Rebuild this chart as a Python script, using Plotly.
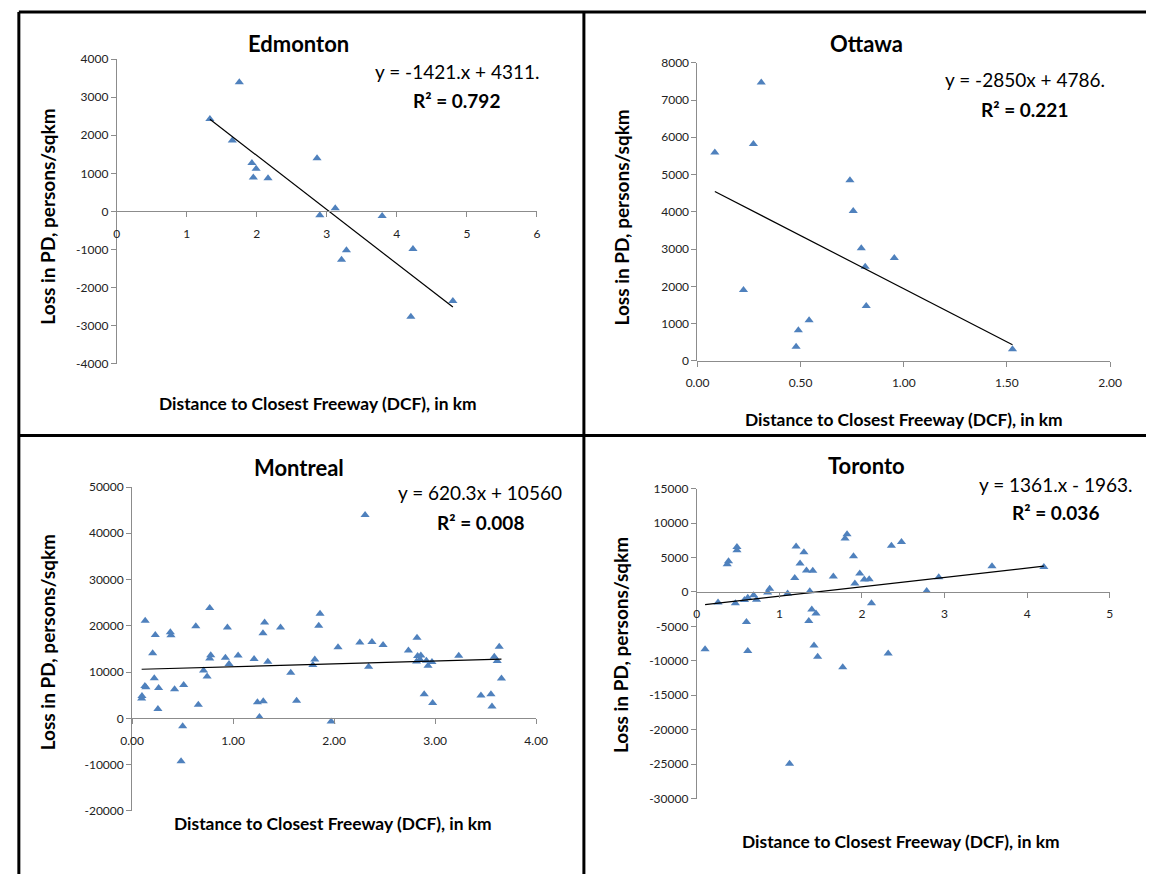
import plotly.graph_objects as go

W, H = 1158, 881
FONT = "Lato"
BLUE = "#4F81BD"

# ---- data: distance to closest freeway (km) vs loss in population density
edm_x = [1.33, 1.75, 1.65, 1.93, 1.99, 1.95, 2.16, 2.86, 2.90, 3.12, 3.28, 3.21, 3.79, 4.23, 4.20, 4.80]
edm_y = [2430, 3390, 1860, 1270, 1120, 894, 870, 1395, -96, 85, -1018, -1266, -121, -982, -2765, -2351]
edm_fit = (-1421, 4311)

ott_x = [0.084, 0.309, 0.271, 0.223, 0.739, 0.755, 0.794, 0.813, 0.954, 0.818, 0.541, 0.489, 0.478, 1.527]
ott_y = [5590, 7470, 5820, 1900, 4850, 4020, 3025, 2525, 2760, 1470, 1090, 820, 380, 310]
ott_fit = (-2850, 4786)

mtl_x = [0.097, 0.094, 0.129, 0.126, 0.136, 0.203, 0.229, 0.219, 0.262, 0.255, 0.378, 0.384,
         0.420, 0.510, 0.500, 0.484, 0.630, 0.655, 0.707, 0.742, 0.768, 0.768, 0.778, 0.923,
         0.943, 0.959, 1.049, 1.207, 1.240, 1.298, 1.260, 1.295, 1.311, 1.343, 1.469, 1.570,
         1.628, 1.789, 1.808, 1.847, 1.860, 1.970, 2.038, 2.254, 2.306, 2.341, 2.374, 2.484,
         2.735, 2.820, 2.816, 2.826, 2.858, 2.849, 2.891, 2.913, 2.929, 2.968, 2.975, 3.233,
         3.453, 3.552, 3.562, 3.585, 3.614, 3.634, 3.656]
mtl_y = [4820, 4330, 21100, 7010, 6730, 14100, 18050, 8700, 6580, 2060, 18620, 17980,
         6300, 7220, -1700, -9260, 19890, 2970, 10340, 9060, 23860, 12950, 13670, 13100,
         19620, 11760, 13590, 12820, 3480, 3690, 300, 18410, 20740, 12250, 19620, 9850,
         3820, 11550, 12740, 20040, 22590, -640, 15370, 16430, 43950, 11190, 16500, 15860,
         14650, 17410, 12310, 13460, 13590, 12740, 5240, 12460, 11400, 12190, 3330, 13520,
         4970, 5240, 2550, 13310, 12400, 15500, 8640]
mtl_fit = (620.3, 10560)

tor_x = [0.100, 0.257, 0.368, 0.384, 0.467, 0.486, 0.486, 0.577, 0.617, 0.601, 0.617, 0.688,
         0.723, 0.858, 0.882, 1.099, 1.123, 1.186, 1.202, 1.250, 1.297, 1.328, 1.356, 1.368,
         1.392, 1.404, 1.443, 1.419, 1.463, 1.653, 1.767, 1.795, 1.819, 1.897, 1.914, 1.973,
         2.028, 2.087, 2.115, 2.317, 2.356, 2.478, 2.783, 2.929, 3.574, 4.202]
tor_y = [-8320, -1510, 4030, 4460, -1650, 6530, 6070, -1180, -850, -4350, -8570, -470,
         -1140, -90, 480, -230, -24940, 2040, 6590, 4120, 5780, 3125, -4200, 100,
         -2560, 3080, -3125, -7760, -9420, 2230, -10940, 7770, 8380, 5170, 1240, 2700,
         1800, 1850, -1650, -8950, 6730, 7240, 140, 2130, 3750, 3610]
tor_fit = (1361, -1963)

# panel definitions: pixel box of the plotting area and axis settings
panels = [
    dict(name="Edmonton", x=edm_x, y=edm_y, fit=edm_fit,
         eq="y = -1421.x + 4311.", r2="R² = 0.792",
         px=(107, 536), py=(52, 362), xr=(0, 6), xd=1, xfmt="{:.0f}",
         yr=(-4000, 4000), yd=1000,
         title_xy=(293, 36), eq_xy=(540, 65), r2_xy=(500, 94),
         xt_xy=(312, 402), yt_xy=(36, 212)),
    dict(name="Ottawa", x=ott_x, y=ott_y, fit=ott_fit,
         eq="y = -2850x + 4786.", r2="R² = 0.221",
         px=(700, 1121.3), py=(55.7, 359), xr=(0, 2), xd=0.5, xfmt="{:.2f}",
         yr=(0, 8000), yd=1000,
         title_xy=(873, 36), eq_xy=(1118, 73), r2_xy=(1080, 103),
         xt_xy=(911, 419), yt_xy=(622, 213)),
    dict(name="Montreal", x=mtl_x, y=mtl_y, fit=mtl_fit,
         eq="y = 620.3x + 10560", r2="R² = 0.008",
         px=(122.7, 535.3), py=(487.3, 816.9), xr=(0, 4), xd=1, xfmt="{:.2f}",
         yr=(-20000, 50000), yd=10000,
         title_xy=(293, 467), eq_xy=(564, 493), r2_xy=(525, 523),
         xt_xy=(328, 830), yt_xy=(36, 645)),
    dict(name="Toronto", x=tor_x, y=tor_y, fit=tor_fit,
         eq="y = 1361.x - 1963.", r2="R² = 0.036",
         px=(699.3, 1121), py=(489, 804.3), xr=(0, 5), xd=1, xfmt="{:.0f}",
         yr=(-30000, 15000), yd=5000,
         title_xy=(873, 465), eq_xy=(1146, 485), r2_xy=(1112, 513),
         xt_xy=(908, 848), yt_xy=(622, 648)),
]


def fx(p):
    return p / W


def fy(p):
    return 1 - p / H


fig = go.Figure()
layout = dict(
    width=W, height=H, margin=dict(l=0, r=0, t=0, b=0),
    paper_bgcolor="white", plot_bgcolor="white", showlegend=False,
    font=dict(family=FONT, color="#1a1a1a"),
)
annotations = []

for i, p in enumerate(panels, start=1):
    xa = "x" if i == 1 else f"x{i}"
    ya = "y" if i == 1 else f"y{i}"
    xkey = "xaxis" if i == 1 else f"xaxis{i}"
    ykey = "yaxis" if i == 1 else f"yaxis{i}"

    fig.add_trace(go.Scatter(
        x=p["x"], y=p["y"], mode="markers", xaxis=xa, yaxis=ya,
        marker=dict(symbol="triangle-up", size=8, color=BLUE),
    ))
    slope, icpt = p["fit"]
    x0, x1 = min(p["x"]), max(p["x"])
    fig.add_trace(go.Scatter(
        x=[x0, x1], y=[slope * x0 + icpt, slope * x1 + icpt], mode="lines",
        xaxis=xa, yaxis=ya, line=dict(color="black", width=1.2),
    ))

    ydom = [fy(p["py"][1]), fy(p["py"][0])]
    ymin, ymax = p["yr"]
    # horizontal axis crosses at y = 0
    xpos = ydom[0] + (0 - ymin) / (ymax - ymin) * (ydom[1] - ydom[0])

    n_x = int(round((p["xr"][1] - p["xr"][0]) / p["xd"]))
    xticks = [p["xr"][0] + k * p["xd"] for k in range(n_x + 1)]
    n_y = int(round((ymax - ymin) / p["yd"]))
    yticks = [ymin + k * p["yd"] for k in range(n_y + 1)]

    layout[xkey] = dict(
        domain=[fx(p["px"][0]), fx(p["px"][1])], range=list(p["xr"]),
        anchor="free", position=xpos, showgrid=False, zeroline=False,
        showline=True, linecolor="#8c8c8c", linewidth=1,
        ticks="outside", ticklen=5, tickcolor="#8c8c8c", ticklabelstandoff=6,
        tickvals=xticks, ticktext=[p["xfmt"].format(v) for v in xticks],
        tickfont=dict(family=FONT, size=12, color="#222"),
    )
    layout[ykey] = dict(
        domain=ydom, range=[ymin, ymax], anchor=xa,
        showgrid=False, zeroline=False,
        showline=True, linecolor="#8c8c8c", linewidth=1,
        ticks="outside", ticklen=5, tickcolor="#8c8c8c",
        tickvals=yticks, ticktext=[str(v) for v in yticks],
        tickfont=dict(family=FONT, size=12, color="#222"),
    )

    tx, ty = p["title_xy"]
    annotations.append(dict(text=f"<b>{p['name']}</b>", x=fx(tx), y=fy(ty),
                            xref="paper", yref="paper", showarrow=False,
                            xanchor="center", yanchor="middle",
                            font=dict(family=FONT, size=22, color="black")))
    ex, ey = p["eq_xy"]
    annotations.append(dict(text=p["eq"], x=fx(ex), y=fy(ey),
                            xref="paper", yref="paper", showarrow=False,
                            xanchor="right", yanchor="middle",
                            font=dict(family=FONT, size=19, color="black")))
    rx, ry = p["r2_xy"]
    annotations.append(dict(text=f"<b>{p['r2']}</b>", x=fx(rx), y=fy(ry),
                            xref="paper", yref="paper", showarrow=False,
                            xanchor="right", yanchor="middle",
                            font=dict(family=FONT, size=19, color="black")))
    xx, xy = p["xt_xy"]
    annotations.append(dict(text="<b>Distance to Closest Freeway (DCF), in km</b>",
                            x=fx(xx), y=fy(xy), xref="paper", yref="paper",
                            showarrow=False, xanchor="center", yanchor="middle",
                            font=dict(family=FONT, size=17.4, color="black")))
    yx, yy = p["yt_xy"]
    annotations.append(dict(text="<b>Loss in PD, persons/sqkm</b>",
                            x=fx(yx), y=fy(yy), xref="paper", yref="paper",
                            showarrow=False, xanchor="center", yanchor="middle",
                            textangle=-90,
                            font=dict(family=FONT, size=19, color="black")))

# table frame around the four panels
frame = [
    (7, 4, 1158, 4), (7, 4, 7, 881), (584, 4, 584, 881), (7, 435, 1158, 435),
]
shapes = [dict(type="line", xref="paper", yref="paper",
               x0=fx(a), y0=fy(b), x1=fx(c), y1=fy(d),
               line=dict(color="black", width=3)) for a, b, c, d in frame]

layout["annotations"] = annotations
layout["shapes"] = shapes
fig.update_layout(**layout)
fig.write_html("out.html")
